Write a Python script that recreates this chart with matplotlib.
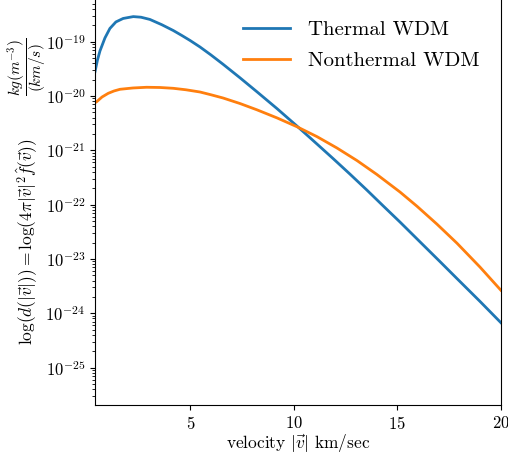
import matplotlib
matplotlib.use('Agg')
import matplotlib.pyplot as plt
import numpy as np

#*********************************************************************************
# values (velocity in km/s, log10 of the density)
v_thermal = [0.40, 0.52, 0.64, 0.88, 1.12, 1.41, 1.76, 2.25, 2.62, 3.05, 3.63, 4.18,
             4.60, 4.99, 5.47, 6.00, 6.58, 7.40, 8.22, 9.19, 10.15, 11.12, 11.89, 12.71,
             13.53, 14.30, 15.13, 16.24, 17.06, 17.88, 18.99, 20.0]
logd_thermal = [-19.553, -19.337, -19.171, -18.932, -18.757, -18.637, -18.573, -18.539,
                -18.550, -18.591, -18.689, -18.795, -18.888, -18.978, -19.098, -19.245,
                -19.415, -19.665, -19.923, -20.233, -20.553, -20.885, -21.150, -21.438,
                -21.733, -22.018, -22.322, -22.741, -23.050, -23.362, -23.782, -24.174]

v_nonthermal = [0.48, 0.74, 1.04, 1.32, 1.61, 2.23, 2.89, 3.54, 4.18, 4.79, 5.47, 6.00,
                6.58, 7.40, 8.22, 9.19, 10.15, 11.12, 12.08, 13.05, 14.01, 15.13, 15.95,
                16.91, 17.88, 18.99, 20.0]
logd_nonthermal = [-20.106, -20.019, -19.951, -19.908, -19.877, -19.853, -19.840, -19.844,
                   -19.859, -19.886, -19.927, -19.978, -20.037, -20.139, -20.255, -20.404,
                   -20.566, -20.749, -20.957, -21.189, -21.445, -21.769, -22.031, -22.359,
                   -22.711, -23.150, -23.577]

labels = ['Thermal WDM', 'Nonthermal WDM']

#*********************************************************************************
plt.rcParams['font.family'] = 'serif'
plt.rcParams['font.serif'] = ['cmr10']
plt.rcParams['mathtext.fontset'] = 'cm'
plt.rcParams['axes.formatter.use_mathtext'] = True
plt.rcParams['axes.unicode_minus'] = False

fig = plt.figure(figsize=(5.08, 4.59), dpi=100)
ax = fig.add_axes([0.187, 0.1176, 0.799, 0.91])

ax.plot(v_thermal, 10**np.array(logd_thermal), color='#1f77b4', lw=2, label=labels[0])
ax.plot(v_nonthermal, 10**np.array(logd_nonthermal), color='#ff7f0e', lw=2, label=labels[1])
ax.set_yscale('log')
ax.set_xlim([0.40, 20])
ax.set_ylim([10**-25.69, 10**-18.0])
ax.set_xticks([5, 10, 15, 20])
ax.tick_params(labelsize=12)

ax.set_xlabel(r'velocity $|\vec{v}|$ km/sec', fontsize=12.5, labelpad=0)
# y label: main expression + the units fraction drawn slightly bigger
ax.set_ylabel(r'$\log(d(|\vec{v}|))=\log(4\pi|\vec{v}|^2\hat{f}(\vec{v}))$', fontsize=12.5)
ax.yaxis.set_label_coords(-0.135, 0.39)
ax.text(-0.1675, 0.81, r'$\dfrac{kg(m^{-3})}{(km/s)}$', transform=ax.transAxes,
        rotation=90, ha='center', va='center', fontsize=11, clip_on=False)

fig.legend(loc='upper left', bbox_to_anchor=(0.4415, 0.9956), frameon=False, fontsize=15,
           handlelength=2.26, handletextpad=0.87, labelspacing=0.6)

plt.savefig('out.png', dpi=100)
plt.close()
